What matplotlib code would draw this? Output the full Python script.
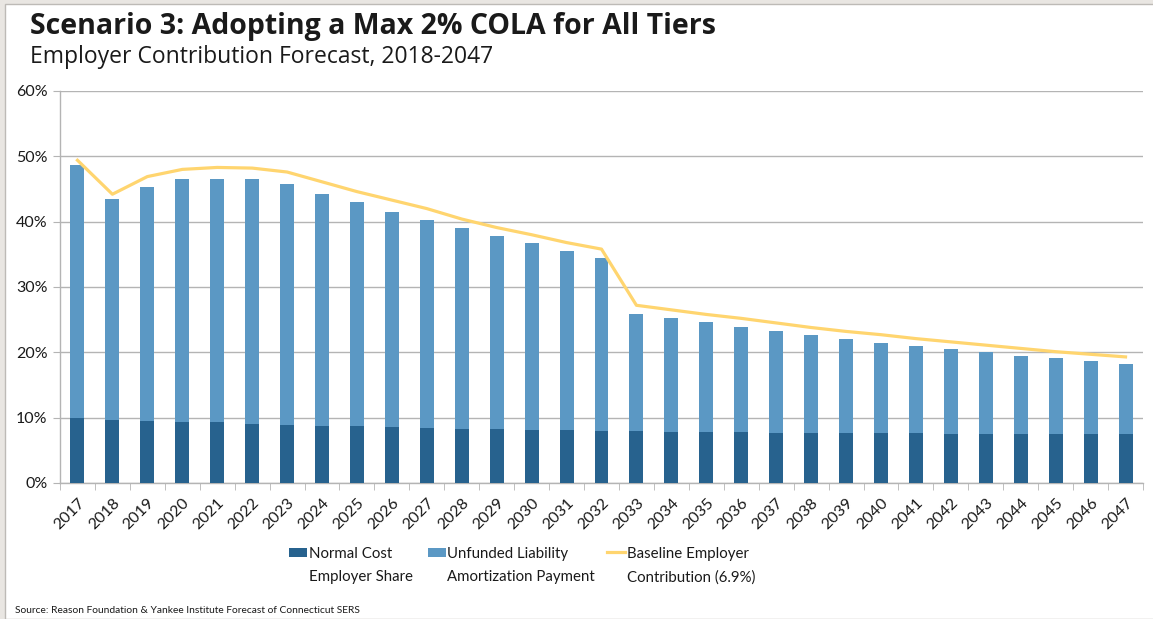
import numpy as np
import matplotlib.pyplot as plt
from matplotlib.patches import Rectangle
from matplotlib.lines import Line2D
from matplotlib.ticker import FuncFormatter, MultipleLocator

years = list(range(2017, 2048))

# Normal cost, employer share (% of payroll)
normal_cost = [9.9, 9.7, 9.5, 9.4, 9.4, 9.1, 8.9, 8.8, 8.8, 8.6,
               8.4, 8.3, 8.3, 8.1, 8.1, 8.0, 8.0, 7.8, 7.8, 7.8,
               7.6, 7.6, 7.6, 7.6, 7.6, 7.45, 7.45, 7.45, 7.45, 7.45, 7.45]

# Total employer contribution under the scenario (top of each bar)
total_contrib = [48.6, 43.5, 45.3, 46.5, 46.6, 46.5, 45.8, 44.3, 43.0, 41.5,
                 40.3, 39.0, 37.8, 36.7, 35.5, 34.4, 25.9, 25.2, 24.6, 23.9,
                 23.3, 22.7, 22.1, 21.5, 21.0, 20.5, 20.1, 19.5, 19.1, 18.7, 18.2]

# Baseline employer contribution (6.9% assumed return)
baseline = [49.4, 44.2, 46.9, 48.0, 48.3, 48.2, 47.6, 46.1, 44.6, 43.3,
            42.0, 40.4, 39.1, 38.0, 36.8, 35.8, 27.2, 26.5, 25.8, 25.2,
            24.5, 23.8, 23.2, 22.7, 22.1, 21.6, 21.1, 20.6, 20.1, 19.7, 19.3]

unfunded = np.array(total_contrib) - np.array(normal_cost)

dark_blue = '#27628E'
light_blue = '#5B98C4'
gold = '#FFD56F'
grid_grey = '#B4B4B4'
ink = '#1A1A1A'

plt.rcParams['font.family'] = ['Lato', 'DejaVu Sans']

fig = plt.figure(figsize=(11.53, 6.19), dpi=100)
fig.patch.set_facecolor('#E9E6E2')
W, H = 1153, 619

# white card with a thin grey edge, kept behind the axes
fig.patches.append(Rectangle((5 / W, 0), 1, 1 - 4 / H, transform=fig.transFigure,
                             facecolor='white', edgecolor='#BDBAB6', linewidth=1.0, zorder=-5))

ax = fig.add_axes([60 / W, 1 - 483 / H, 1083 / W, 392 / H])
ax.set_facecolor('white')

x = np.arange(len(years))
ax.bar(x, normal_cost, width=0.4, color=dark_blue, zorder=3)
ax.bar(x, unfunded, width=0.4, bottom=normal_cost, color=light_blue, zorder=3)
ax.plot(x, baseline, color=gold, linewidth=2.3, zorder=4)

ax.set_xlim(-0.5, len(years) - 0.5)
ax.set_ylim(0, 60)
ax.yaxis.set_major_locator(MultipleLocator(10))
ax.yaxis.set_major_formatter(FuncFormatter(lambda v, p: f'{v:.0f}%'))
ax.grid(axis='y', color=grid_grey, linewidth=1.0, zorder=0)

for side in ['top', 'right']:
    ax.spines[side].set_visible(False)
for side in ['left', 'bottom']:
    ax.spines[side].set_color(grid_grey)
    ax.spines[side].set_linewidth(1.0)

ax.tick_params(axis='y', length=5, color=grid_grey, labelsize=11.5, pad=4, labelcolor=ink)
ax.set_xticks(x)
ax.set_xticklabels([str(y) for y in years], rotation=45, ha='right',
                   rotation_mode='anchor', fontsize=11.5, color=ink)
ax.tick_params(axis='x', which='major', length=0, pad=9)
ax.set_xticks(np.arange(-0.5, len(years)), minor=True)
ax.tick_params(axis='x', which='minor', length=5, color=grid_grey)

# titles
fig.text(30 / W, 1 - 34 / H, 'Scenario 3: Adopting a Max 2% COLA for All Tiers',
         fontsize=20.5, fontweight='bold', color=ink, va='baseline', ha='left',
         family=['Open Sans', 'DejaVu Sans'])
fig.text(30 / W, 1 - 63 / H, 'Employer Contribution Forecast, 2018-2047',
         fontsize=16.5, color=ink, va='baseline', ha='left',
         family=['Open Sans', 'DejaVu Sans'])

# legend drawn below the axis
leg_font = 10.8
leg_top = 1 - 547 / H
fig.patches.append(Rectangle((289 / W, 1 - 557 / H), 18 / W, 9 / H,
                             transform=fig.transFigure, facecolor=dark_blue))
fig.text(309 / W, leg_top, 'Normal Cost\nEmployer Share', fontsize=leg_font,
         va='top', ha='left', linespacing=1.8, color=ink)
fig.patches.append(Rectangle((428 / W, 1 - 557 / H), 18 / W, 9 / H,
                             transform=fig.transFigure, facecolor=light_blue))
fig.text(447 / W, leg_top, 'Unfunded Liability\nAmortization Payment', fontsize=leg_font,
         va='top', ha='left', linespacing=1.8, color=ink)
fig.lines.append(Line2D([607 / W, 625 / W], [1 - 552 / H, 1 - 552 / H],
                        transform=fig.transFigure, color=gold, linewidth=2.3))
fig.text(627 / W, leg_top, 'Baseline Employer\nContribution (6.9%)', fontsize=leg_font,
         va='top', ha='left', linespacing=1.8, color=ink)

fig.text(15 / W, 1 - 613 / H,
         'Source: Reason Foundation & Yankee Institute Forecast of Connecticut SERS',
         fontsize=7.4, color=ink, va='baseline', ha='left')

fig.savefig('out.png', dpi=100, facecolor=fig.get_facecolor())
